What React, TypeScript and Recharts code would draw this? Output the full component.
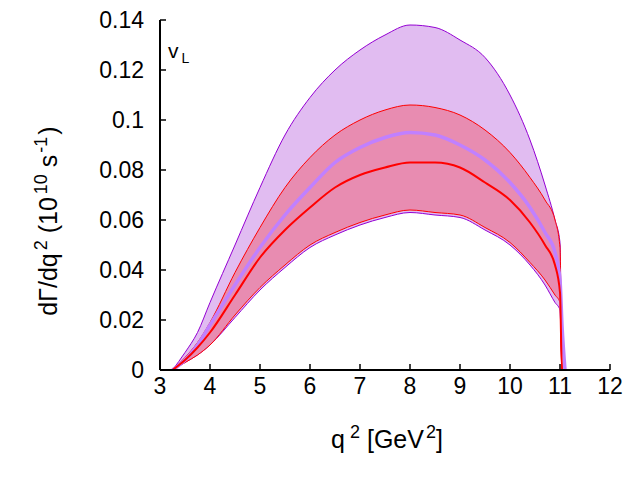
import { ComposedChart, Area, Line, XAxis, YAxis, Label } from "recharts";

const q2 = [3.25, 3.5, 3.75, 4.0, 4.5, 5.0, 5.5, 6.0, 6.5, 7.0, 7.5, 8.0, 8.5, 9.0, 9.5, 10.0, 10.4, 10.7, 10.9, 11.0, 11.04, 11.1];

// purple (outer) band
const purpleHi = [0, 0.007, 0.015, 0.027, 0.05, 0.073, 0.094, 0.109, 0.12, 0.128, 0.134, 0.138, 0.137, 0.132, 0.125, 0.11, 0.092, 0.074, 0.06, 0.051, 0, 0];
const purpleLo = [0, 0.003, 0.006, 0.01, 0.021, 0.032, 0.041, 0.049, 0.054, 0.058, 0.061, 0.063, 0.062, 0.061, 0.056, 0.05, 0.042, 0.034, 0.027, 0.024, 0, 0];
// red (inner) band
const redHi = [0, 0.005, 0.011, 0.019, 0.039, 0.057, 0.073, 0.085, 0.094, 0.1, 0.104, 0.106, 0.105, 0.102, 0.096, 0.087, 0.077, 0.068, 0.06, 0.049, 0, 0];
const redLo = [0, 0.003, 0.006, 0.01, 0.022, 0.033, 0.042, 0.05, 0.055, 0.059, 0.062, 0.064, 0.063, 0.062, 0.057, 0.051, 0.043, 0.036, 0.03, 0.027, 0, 0];
// central values
const lavCentral = [0, 0.004, 0.01, 0.018, 0.034, 0.049, 0.062, 0.073, 0.083, 0.089, 0.093, 0.095, 0.094, 0.09, 0.084, 0.075, 0.065, 0.055, 0.047, 0.036, 0.018, 0];
const redCentral = [0, 0.004, 0.009, 0.015, 0.03, 0.045, 0.056, 0.065, 0.073, 0.078, 0.081, 0.083, 0.083, 0.081, 0.075, 0.068, 0.059, 0.05, 0.042, 0.031, 0, 0];

const xTicks = [3, 4, 5, 6, 7, 8, 9, 10, 11, 12];
const yTicks = [0, 0.02, 0.04, 0.06, 0.08, 0.1, 0.12, 0.14];

const data = q2.map((q, i) => ({
  q,
  pBand: [purpleLo[i], purpleHi[i]],
  rBand: [redLo[i], redHi[i]],
  lav: lavCentral[i],
  red: redCentral[i],
}));

const font = "'Liberation Sans', Arial, sans-serif";
const blank = () => "";

function Labels() {
  return (
    <g fontFamily={font} fill="#000">
      <text x={57} y={221} fontSize={25} textAnchor="middle" transform="rotate(-90 57 221)">
        dΓ/dq<tspan dx={3} dy={-10} fontSize={18}>2</tspan>
        <tspan dy={10}>{"  (10"}</tspan>
        <tspan dx={3} dy={-10} fontSize={18}>10</tspan>
        <tspan dy={10}>{"  s"}</tspan>
        <tspan dx={2} dy={-10} fontSize={18}>-1</tspan>
        <tspan dx={2} dy={10}>)</tspan>
      </text>
      <text x={387} y={448} fontSize={25} textAnchor="middle">
        q<tspan dx={5} dy={-10} fontSize={18}>2</tspan>
        <tspan dy={10}>{" [GeV"}</tspan>
        <tspan dx={2} dy={-10} fontSize={18}>2</tspan>
        <tspan dy={10}>]</tspan>
      </text>
      <text x={168} y={58} fontSize={21}>
        v<tspan dx={3} dy={5} fontSize={14}>L</tspan>
      </text>
    </g>
  );
}

export default function App() {
  return (
    <div style={{ position: "absolute", left: 0, top: 0, width: 640, height: 480, background: "#fff" }}>
      <ComposedChart width={640} height={480} data={data} margin={{ top: 20, right: 30, left: 0, bottom: 0 }}>
        <XAxis
          dataKey="q"
          type="number"
          domain={[3, 12]}
          ticks={xTicks}
          height={110}
          tickSize={-6}
          tickMargin={14}
          axisLine={{ stroke: "#000", strokeWidth: 2 }}
          tickLine={{ stroke: "#000", strokeWidth: 1.5 }}
          tick={{ fill: "#000", fontSize: 23, fontFamily: font }}
          allowDataOverflow
        />
        <XAxis
          xAxisId="top"
          orientation="top"
          type="number"
          domain={[3, 12]}
          ticks={xTicks}
          height={0}
          tickSize={-6}
          tickFormatter={blank}
          axisLine={{ stroke: "#000", strokeWidth: 2 }}
          tickLine={{ stroke: "#000", strokeWidth: 1.5 }}
        />
        <YAxis
          type="number"
          domain={[0, 0.14]}
          ticks={yTicks}
          width={160}
          tickSize={-6}
          tickMargin={22}
          axisLine={{ stroke: "#000", strokeWidth: 2 }}
          tickLine={{ stroke: "#000", strokeWidth: 1.5 }}
          tick={{ fill: "#000", fontSize: 23, fontFamily: font }}
          allowDataOverflow
        >
          <Label content={() => <Labels />} />
        </YAxis>
        <YAxis
          yAxisId="right"
          orientation="right"
          type="number"
          domain={[0, 0.14]}
          ticks={yTicks}
          width={0}
          tickSize={-6}
          tickFormatter={blank}
          axisLine={{ stroke: "#000", strokeWidth: 2 }}
          tickLine={{ stroke: "#000", strokeWidth: 1.5 }}
        />
        <Area
          type="monotone"
          dataKey="pBand"
          fill="#e1bcf1"
          fillOpacity={1}
          stroke="#9400d3"
          strokeWidth={1}
          isAnimationActive={false}
        />
        <Area
          type="monotone"
          dataKey="rBand"
          fill="#e88cb1"
          fillOpacity={1}
          stroke="#ff0000"
          strokeWidth={1}
          isAnimationActive={false}
        />
        <Line type="monotone" dataKey="lav" stroke="#c080ff" strokeWidth={3.5} dot={false} isAnimationActive={false} />
        <Line type="monotone" dataKey="red" stroke="#ff0000" strokeWidth={2} dot={false} isAnimationActive={false} />
      </ComposedChart>
    </div>
  );
}
